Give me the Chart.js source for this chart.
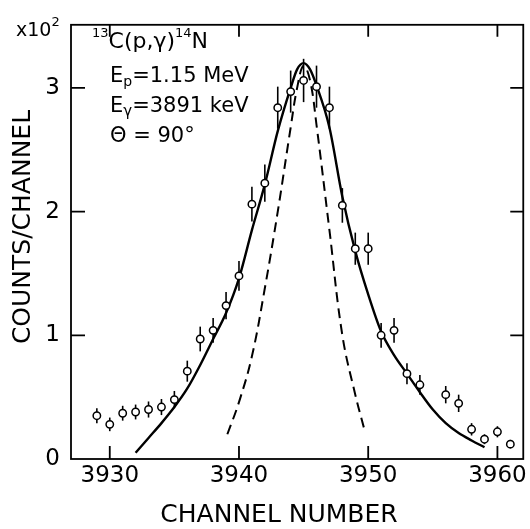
<!DOCTYPE html>
<html>
<head>
<meta charset="utf-8">
<script src="https://cdn.jsdelivr.net/npm/chart.js@4.4.0/dist/chart.umd.min.js"></script>
<style>
  html, body { margin: 0; padding: 0; background: #fff; }
</style>
</head>
<body>
<canvas id="grafico" width="530" height="529"></canvas>
<script>
// puntos medidos (cuentas en unidades de 10^2)
const canales = [3929, 3930, 3931, 3932, 3933, 3934, 3935, 3936, 3937, 3938, 3939, 3940, 3941, 3942, 3943, 3944,
    3945, 3946, 3947, 3948, 3949, 3950, 3951, 3952, 3953, 3954, 3956, 3957, 3958, 3959, 3960, 3961];
const cuentas = [0.35, 0.28, 0.37, 0.38, 0.40, 0.42, 0.48, 0.71, 0.97, 1.04, 1.24, 1.48, 2.06, 2.23, 2.84, 2.97,
    3.06, 3.01, 2.84, 2.05, 1.70, 1.70, 1.00, 1.04, 0.69, 0.60, 0.52, 0.45, 0.24, 0.16, 0.22, 0.12];
const errores = [0.06, 0.055, 0.06, 0.06, 0.065, 0.065, 0.07, 0.085, 0.10, 0.10, 0.11, 0.12, 0.14, 0.15, 0.17, 0.17,
    0.175, 0.17, 0.17, 0.14, 0.13, 0.13, 0.10, 0.10, 0.085, 0.08, 0.07, 0.07, 0.05, 0.04, 0.045, 0.035];

// curva continua (ajuste)
const canalesAjuste = [3932, 3933, 3934, 3935, 3936, 3937, 3938, 3939, 3940, 3941, 3942, 3943, 3944, 3944.5, 3945,
    3945.5, 3946, 3947, 3948, 3949, 3950, 3951, 3952, 3953, 3954, 3955, 3956, 3957, 3958, 3959];
const valoresAjuste = [0.05, 0.17, 0.29, 0.42, 0.57, 0.76, 0.97, 1.18, 1.46, 1.85, 2.22, 2.65, 3.00, 3.15, 3.20,
    3.15, 3.02, 2.68, 2.12, 1.68, 1.33, 1.03, 0.84, 0.69, 0.54, 0.40, 0.29, 0.21, 0.15, 0.095];

// curva discontinua
const canalesDetector = [3939.1, 3940, 3941, 3942, 3943, 3944, 3944.5, 3945, 3945.5, 3946, 3947, 3948, 3949, 3949.7];
const valoresDetector = [0.20, 0.46, 0.83, 1.38, 2.00, 2.68, 3.00, 3.18, 3.06, 2.70, 1.85, 1.00, 0.52, 0.24];

const ticksX = [3930, 3940, 3950, 3960];
const ticksY = [0, 1, 2, 3];

const fuente = '"DejaVu Sans", sans-serif';

// dibuja texto con sub/superindices, devuelve la x final
function trozos(ctx, x, y, partes) {
    partes.forEach(p => {
        ctx.font = p.size + 'px ' + fuente;
        ctx.fillText(p.t, x, y + (p.dy || 0));
        x += ctx.measureText(p.t).width;
    });
    return x;
}

const decoracion = {
    id: 'decoracion',
    beforeDatasetsDraw(chart) {
        const ctx = chart.ctx, sx = chart.scales.x, sy = chart.scales.y;
        ctx.save();
        ctx.strokeStyle = '#000';
        ctx.lineWidth = 1.6;
        canales.forEach((c, i) => {
            const px = sx.getPixelForValue(c);
            ctx.beginPath();
            ctx.moveTo(px, sy.getPixelForValue(cuentas[i] - errores[i]));
            ctx.lineTo(px, sy.getPixelForValue(cuentas[i] + errores[i]));
            ctx.stroke();
        });
        ctx.restore();
    },
    afterDraw(chart) {
        const ctx = chart.ctx, a = chart.chartArea, sx = chart.scales.x, sy = chart.scales.y;
        ctx.save();
        ctx.strokeStyle = '#000';
        ctx.lineWidth = 1.8;
        ctx.strokeRect(a.left, a.top, a.right - a.left, a.bottom - a.top);

        // marcas hacia adentro
        ctx.beginPath();
        ticksX.forEach(v => {
            const px = sx.getPixelForValue(v);
            ctx.moveTo(px, a.bottom); ctx.lineTo(px, a.bottom - 13);
            ctx.moveTo(px, a.top); ctx.lineTo(px, a.top + 12);
        });
        ticksY.forEach(v => {
            if (v === 0) return;
            const py = sy.getPixelForValue(v);
            ctx.moveTo(a.left, py); ctx.lineTo(a.left + 14, py);
            ctx.moveTo(a.right, py); ctx.lineTo(a.right - 13, py);
        });
        ctx.stroke();

        ctx.fillStyle = '#000';
        ctx.textBaseline = 'alphabetic';
        ctx.textAlign = 'left';

        // x10^2
        trozos(ctx, 16, 36, [{t: 'x10', size: 19}, {t: '2', size: 13, dy: -10}]);

        // textos
        trozos(ctx, 92, 48, [
            {t: '13', size: 13, dy: -11}, {t: 'C(p,', size: 22}, {t: 'γ', size: 22}, {t: ')', size: 22},
            {t: '14', size: 13, dy: -11}, {t: 'N', size: 22}
        ]);
        trozos(ctx, 110, 82, [{t: 'E', size: 21}, {t: 'p', size: 14, dy: 4}, {t: '=1.15 MeV', size: 21}]);
        trozos(ctx, 110, 112, [{t: 'E', size: 21}, {t: 'γ', size: 15, dy: 4}, {t: '=3891 keV', size: 21}]);
        trozos(ctx, 110, 142, [{t: 'Θ = 90°', size: 21}]);

        // titulos de ejes
        ctx.font = '25px ' + fuente;
        ctx.textAlign = 'center';
        ctx.textBaseline = 'middle';
        ctx.fillText('CHANNEL NUMBER', 279, 515);
        ctx.translate(23, 227);
        ctx.rotate(-Math.PI / 2);
        ctx.fillText('COUNTS/CHANNEL', 0, 0);
        ctx.restore();
    }
};

const ctx = document.getElementById('grafico').getContext('2d');

new Chart(ctx, {
    type: 'scatter',
    data: {
        datasets: [{
            label: 'datos',
            data: canales.map((c, i) => ({x: c, y: cuentas[i]})),
            showLine: false,
            pointRadius: 3.7,
            pointBackgroundColor: '#fff',
            pointBorderColor: '#000',
            pointBorderWidth: 1.5
        }, {
            label: 'ajuste',
            data: canalesAjuste.map((c, i) => ({x: c, y: valoresAjuste[i]})),
            showLine: true,
            borderColor: '#000',
            borderWidth: 2.4,
            pointRadius: 0,
            cubicInterpolationMode: 'monotone'
        }, {
            label: 'detector',
            data: canalesDetector.map((c, i) => ({x: c, y: valoresDetector[i]})),
            showLine: true,
            borderColor: '#000',
            borderWidth: 2,
            borderDash: [10, 6],
            pointRadius: 0,
            tension: 0.4
        }]
    },
    options: {
        responsive: false,
        animation: false,
        events: [],
        layout: { padding: { left: 0, right: 5, top: 5, bottom: 0 } },
        plugins: { legend: { display: false }, tooltip: { enabled: false } },
        scales: {
            x: {
                type: 'linear',
                min: 3927,
                max: 3962,
                grid: { display: false, drawTicks: false },
                border: { display: false },
                afterBuildTicks: s => { s.ticks = ticksX.map(v => ({value: v})); },
                afterFit: s => { s.height = 70; },
                ticks: {
                    color: '#000', padding: 3, maxRotation: 0,
                    font: { family: fuente, size: 23 },
                    callback: v => String(v)
                }
            },
            y: {
                min: 0,
                max: 3.51,
                grid: { display: false, drawTicks: false },
                border: { display: false },
                afterBuildTicks: s => { s.ticks = ticksY.map(v => ({value: v})); },
                afterFit: s => { s.width = 71; },
                ticks: {
                    color: '#000', padding: 11,
                    font: { family: fuente, size: 23 },
                    callback: v => String(v)
                }
            }
        }
    },
    plugins: [decoracion]
});
</script>
</body>
</html>
